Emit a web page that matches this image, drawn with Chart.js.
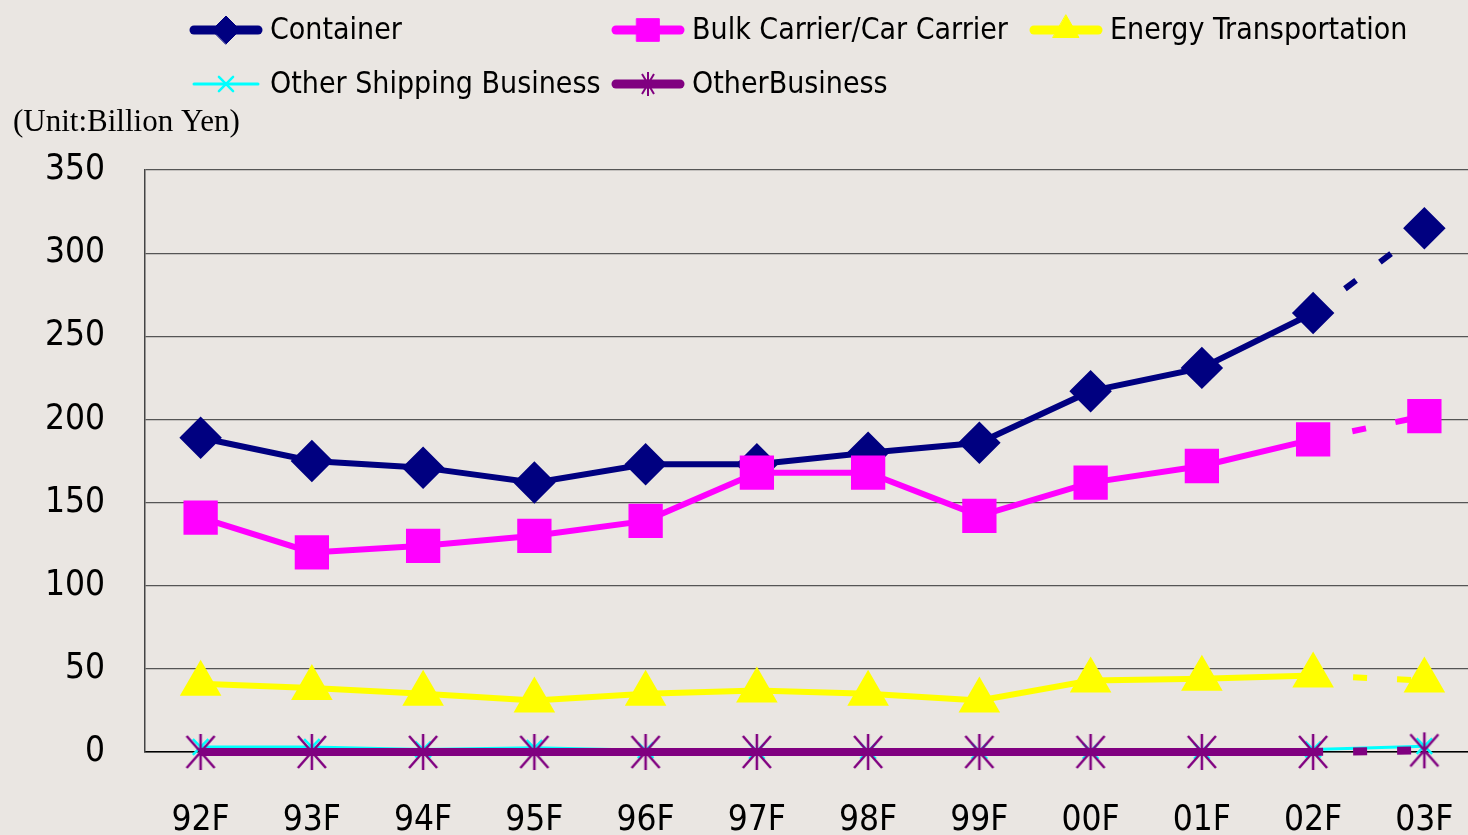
<!DOCTYPE html>
<html>
<head>
<meta charset="utf-8">
<script src="https://cdn.jsdelivr.net/npm/chart.js@4/dist/chart.umd.min.js"></script>
<style>
  html, body { margin: 0; padding: 0; background: #EAE6E2; overflow: hidden; }
  #wrap { width: 1480px; height: 835px; }
</style>
</head>
<body>
<div id="wrap"><canvas id="shipChart" width="1480" height="835"></canvas></div>
<script>
// Data for the chart
const years = ['92F', '93F', '94F', '95F', '96F', '97F', '98F', '99F', '00F', '01F', '02F', '03F'];
const container = [189, 175, 171, 162, 173, 173, 180, 186, 217, 231, 264, 315];
const bulkCarrier = [141, 120, 124, 130, 139, 168, 168, 142, 162, 172, 188, 202];
const energy = [41, 38.5, 35, 31, 35, 37, 35, 31, 43, 44, 46, 43];
const otherShipping = [3, 3, 1.5, 2.5, 1, 0.5, 0.5, 0.5, 0.5, 0.5, 1.5, 3.5];
const otherBusiness = [0, 0, 0, 0, 0, 0, 0, 0, 0, 0, 0, 1];
const yTicks = [0, 50, 100, 150, 200, 250, 300, 350];

const fontFamily = '"Liberation Sans Narrow", "DejaVu Sans Condensed", "Liberation Sans", sans-serif';

// asterisk marker (vertical + two diagonals)
function makeAsterisk(color, w, h, lw) {
  const c = document.createElement('canvas');
  c.width = w; c.height = h;
  const g = c.getContext('2d');
  g.strokeStyle = color;
  g.lineWidth = lw;
  g.beginPath();
  g.moveTo(w / 2, 1); g.lineTo(w / 2, h - 1);
  g.moveTo(2, 3); g.lineTo(w - 2, h - 3);
  g.moveTo(w - 2, 3); g.lineTo(2, h - 3);
  g.stroke();
  return c;
}
const asterisk = makeAsterisk('#800080', 32, 38, 2.5);
const asteriskSmall = makeAsterisk('#800080', 16, 26, 2);

// dashed forecast segment between 02F and 03F
const lastSeg = years.length - 2;
const dashedLast = {
  borderDash: ctx => ctx.p0DataIndex === lastSeg ? [14, 30] : undefined,
  borderDashOffset: ctx => ctx.p0DataIndex === lastSeg ? 4 : undefined,
};

const shipData = {
  labels: years,
  datasets: [
    {
      label: 'Container',
      data: container,
      borderColor: '#000080',
      backgroundColor: '#000080',
      borderWidth: 6,
      pointStyle: 'rectRot',
      pointRadius: 17,
      legendRadius: 14,
      segment: dashedLast,
      order: 4,
    },
    {
      label: 'Bulk Carrier/Car Carrier',
      data: bulkCarrier,
      borderColor: '#FF00FF',
      backgroundColor: '#FF00FF',
      borderWidth: 6,
      pointStyle: 'rect',
      pointRadius: 20,
      legendRadius: 16,
      segment: dashedLast,
      order: 3,
    },
    {
      label: 'Energy Transportation',
      data: energy,
      borderColor: '#FFFF00',
      backgroundColor: '#FFFF00',
      borderWidth: 6,
      pointStyle: 'triangle',
      pointRadius: 18,
      legendRadius: 15,
      segment: dashedLast,
      order: 2,
    },
    {
      label: 'Other Shipping Business',
      data: otherShipping,
      borderColor: '#00FFFF',
      backgroundColor: '#00FFFF',
      borderWidth: 3,
      pointStyle: 'crossRot',
      pointRadius: 11,
      pointBorderWidth: 2.5,
      legendRadius: 10,
      order: 1,
    },
    {
      label: 'OtherBusiness',
      data: otherBusiness,
      borderColor: '#800080',
      backgroundColor: '#800080',
      borderWidth: 8,
      pointStyle: asterisk,
      legendStyle: asteriskSmall,
      pointRadius: 16,
      segment: dashedLast,
      order: 0,
    },
  ],
};
shipData.datasets.forEach(ds => {
  ds.tension = 0;
  ds.clip = false;
  ds.pointHoverRadius = ds.pointRadius;
});

// legend in a fixed grid + unit label
const legendCells = [
  { x: 190, y: 30 }, { x: 612, y: 30 }, { x: 1030, y: 30 },
  { x: 190, y: 84 }, { x: 612, y: 84 },
];
const legendPlugin = {
  id: 'gridLegend',
  afterDraw(chart) {
    const ctx = chart.ctx;
    ctx.save();
    chart.data.datasets.forEach((ds, i) => {
      const cell = legendCells[i];
      const lw = ds.borderWidth === 3 ? 3 : 9;
      ctx.strokeStyle = ds.borderColor;
      ctx.lineWidth = lw;
      ctx.lineCap = 'round';
      ctx.beginPath();
      ctx.moveTo(cell.x + 4, cell.y);
      ctx.lineTo(cell.x + 68, cell.y);
      ctx.stroke();
      const cx = cell.x + 36;
      if (ds.legendStyle) {
        const img = ds.legendStyle;
        ctx.drawImage(img, cx - img.width / 2, cell.y - img.height / 2);
      } else {
        ctx.fillStyle = ds.backgroundColor;
        ctx.strokeStyle = ds.borderColor;
        ctx.lineWidth = ds.pointBorderWidth || 1;
        Chart.helpers.drawPoint(ctx, { pointStyle: ds.pointStyle, rotation: 0, radius: ds.legendRadius, borderWidth: ds.pointBorderWidth || 1 }, cx, cell.y);
      }
      ctx.fillStyle = '#000';
      ctx.font = '30px ' + fontFamily;
      ctx.textBaseline = 'middle';
      ctx.textAlign = 'left';
      ctx.fillText(ds.label, cell.x + 80, cell.y + 1);
    });
    ctx.font = '31px "Liberation Serif", "Times New Roman", serif';
    ctx.textBaseline = 'alphabetic';
    ctx.fillText('(Unit:Billion Yen)', 13, 131);
    ctx.restore();
  },
};

// Chart Configuration
const config = {
  type: 'line',
  data: shipData,
  plugins: [legendPlugin],
  options: {
    responsive: false,
    animation: false,
    layout: { autoPadding: false, padding: { top: 170, right: 0, left: 0, bottom: 0 } },
    plugins: {
      legend: { display: false },
      tooltip: { enabled: false },
    },
    scales: {
      x: {
        offset: true,
        afterFit: s => { s.height = 83; s.paddingLeft = 0; s.paddingRight = 0; },
        grid: { display: false },
        border: { display: true, color: '#000', width: 1.5 },
        ticks: {
          color: '#000',
          font: { family: fontFamily, size: 35 },
          padding: 40,
          maxRotation: 0,
        },
      },
      y: {
        min: 0,
        max: 350,
        afterFit: s => { s.width = 145; },
        afterBuildTicks: s => { s.ticks = yTicks.map(v => ({ value: v })); },
        grid: { color: '#555', lineWidth: 1.2, drawTicks: false },
        border: { display: true, color: '#444', width: 1.5 },
        ticks: {
          color: '#000',
          font: { family: fontFamily, size: 35 },
          padding: 40,
        },
      },
    },
  },
};

// Initialize the Chart
const ctx = document.getElementById('shipChart').getContext('2d');
new Chart(ctx, config);
</script>
</body>
</html>
